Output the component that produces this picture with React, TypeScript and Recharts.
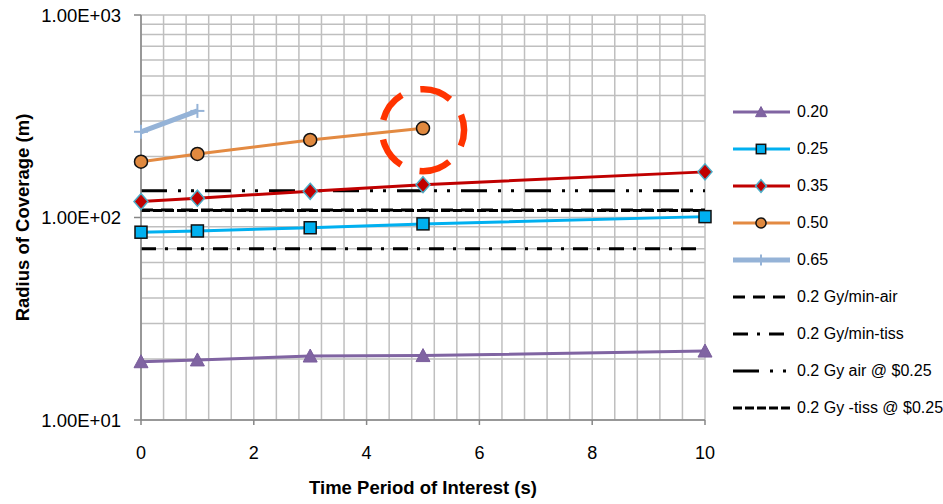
import React from 'react';
import { LineChart, Line, XAxis, YAxis, CartesianGrid, ReferenceDot } from 'recharts';

// ---------- data ----------
const timePoints = [0, 1, 3, 5, 10];
const radius020 = [19.4, 19.8, 20.7, 20.8, 21.9];
const radius025 = [84.6, 85.8, 89.0, 93.0, 101];
const radius035 = [119.8, 124.6, 134.7, 145.2, 168];
const radius050 = [188.6, 205.9, 241.4, 275.7];
const radius065 = [265, 336];

const limitSpan = [0, 10];
const airPerMin = 108.9;
const tissPerMin = 70.1;
const airAtCost = 135.6;
const tissAtCost = 108.3;

const xTicks = [0, 0.4, 0.8, 1.2, 1.6, 2, 2.4, 2.8, 3.2, 3.6, 4, 4.4, 4.8, 5.2, 5.6, 6, 6.4, 6.8, 7.2, 7.6, 8, 8.4, 8.8, 9.2, 9.6, 10];
const xMajorTicks = [0, 2, 4, 6, 8, 10];
const xTickLabels = ['0', '2', '4', '6', '8', '10'];
const yTicks = [10, 20, 30, 40, 50, 60, 70, 80, 90, 100, 200, 300, 400, 500, 600, 700, 800, 900, 1000];
const yMajorTicks = [10, 100, 1000];
const yTickLabels = ['1.00E+01', '1.00E+02', '1.00E+03'];

const highlight = { x: 5, y: 270 };

const xTitle = 'Time Period of Interest (s)';
const yTitle = 'Radius of Coverage (m)';

// ---------- helpers ----------
const toPoints = (ys: number[]) => ys.map((y, i) => ({ x: timePoints[i], y }));
const flat = (v: number) => limitSpan.map((x) => ({ x, y: v }));

const FONT = '"Liberation Sans", Arial, sans-serif';
const GRID = '#BFBFBF';
const AXIS = '#868686';

type ShapeKind = 'triangle' | 'square' | 'diamond' | 'circle' | 'plus' | 'none';

function Marker({ kind, cx, cy, s = 1 }: { kind: ShapeKind; cx: number; cy: number; s?: number }) {
  if (kind === 'triangle') {
    const pts = `${cx},${cy - 7 * s} ${cx + 7 * s},${cy + 6 * s} ${cx - 7 * s},${cy + 6 * s}`;
    return <polygon points={pts} fill="#8064A2" stroke="#7A5E9C" strokeWidth={1} />;
  }
  if (kind === 'square') {
    return (
      <rect x={cx - 6 * s} y={cy - 6 * s} width={12 * s} height={12 * s} fill="#00B0F0" stroke="#111" strokeWidth={1.5} />
    );
  }
  if (kind === 'diamond') {
    const pts = `${cx},${cy - 8 * s} ${cx + 7 * s},${cy} ${cx},${cy + 8 * s} ${cx - 7 * s},${cy}`;
    return <polygon points={pts} fill="#C00000" stroke="#4BACC6" strokeWidth={1.5} />;
  }
  if (kind === 'circle') {
    return <circle cx={cx} cy={cy} r={6.5 * s} fill="#E0893F" stroke="#111" strokeWidth={1.5} />;
  }
  if (kind === 'plus') {
    return (
      <g stroke="#95B3D7" strokeWidth={2}>
        <line x1={cx - 7 * s} x2={cx + 7 * s} y1={cy} y2={cy} />
        <line x1={cx} x2={cx} y1={cy - 7 * s} y2={cy + 7 * s} />
      </g>
    );
  }
  return null;
}

type SeriesDef = {
  name: string;
  data: { x: number; y: number }[];
  color: string;
  width: number;
  dash?: string;
  marker: ShapeKind;
};

const limitSeries: SeriesDef[] = [
  { name: '0.2 Gy/min-air', data: flat(airPerMin), color: '#000', width: 3, dash: '12 8', marker: 'none' },
  { name: '0.2 Gy/min-tiss', data: flat(tissPerMin), color: '#000', width: 3, dash: '15 9 3 9', marker: 'none' },
  { name: '0.2 Gy air @ $0.25', data: flat(airAtCost), color: '#000', width: 3, dash: '26 11 3 10 3 11', marker: 'none' },
  { name: '0.2 Gy -tiss @ $0.25', data: flat(tissAtCost), color: '#000', width: 3, dash: '9 3', marker: 'none' },
];

const doseSeries: SeriesDef[] = [
  { name: '0.20', data: toPoints(radius020), color: '#8064A2', width: 3, marker: 'triangle' },
  { name: '0.25', data: toPoints(radius025), color: '#00B0F0', width: 3, marker: 'square' },
  { name: '0.35', data: toPoints(radius035), color: '#C00000', width: 3, marker: 'diamond' },
  { name: '0.50', data: toPoints(radius050), color: '#E38A42', width: 3, marker: 'circle' },
  { name: '0.65', data: toPoints(radius065), color: '#95B3D7', width: 5, marker: 'plus' },
];

const legendOrder: SeriesDef[] = [...doseSeries, ...limitSeries];

const makeDot = (def: SeriesDef) => (props: any) => (
  <g key={`${def.name}-${props.index}`}>
    <Marker kind={def.marker} cx={props.cx} cy={props.cy} />
  </g>
);

const XTick = (props: any) => {
  const { x, y, payload } = props;
  const idx = xMajorTicks.indexOf(payload.value);
  if (idx < 0) return <g />;
  return (
    <g>
      <line x1={x} x2={x} y1={y} y2={y + 5} stroke={AXIS} strokeWidth={1.5} />
      <text x={x} y={y + 33} textAnchor="middle" dominantBaseline="central" fontSize={18} fontFamily={FONT} fill="#000">
        {xTickLabels[idx]}
      </text>
    </g>
  );
};

const YTick = (props: any) => {
  const { x, y, payload } = props;
  const idx = yMajorTicks.indexOf(payload.value);
  if (idx < 0) return <g />;
  return (
    <g>
      <line x1={x - 7} x2={x} y1={y} y2={y} stroke={AXIS} strokeWidth={1.5} />
      <text x={x - 20} y={y} textAnchor="end" dominantBaseline="central" fontSize={18.5} fontFamily={FONT} fill="#000">
        {yTickLabels[idx]}
      </text>
    </g>
  );
};

const XTitle = (props: any) => {
  const vb = props.viewBox || { x: 0, y: 0, width: 0, height: 0 };
  return (
    <text x={vb.x + vb.width / 2} y={vb.y + 67} textAnchor="middle" dominantBaseline="central" fontSize={18.5} fontWeight="bold" fontFamily={FONT} fill="#000">
      {xTitle}
    </text>
  );
};

const YTitle = (props: any) => {
  const vb = props.viewBox || { x: 0, y: 0, width: 0, height: 0 };
  const cx = vb.x + 22;
  const cy = vb.y + vb.height / 2;
  return (
    <text x={cx} y={cy} transform={`rotate(-90 ${cx} ${cy})`} textAnchor="middle" dominantBaseline="central" fontSize={18.5} fontWeight="bold" fontFamily={FONT} fill="#000">
      {yTitle}
    </text>
  );
};

const HighlightRing = (props: any) => {
  const { cx, cy } = props;
  return (
    <circle
      cx={cx}
      cy={cy}
      r={41}
      fill="none"
      stroke="#FF3300"
      strokeWidth={6.5}
      strokeDasharray="32 19.5"
      transform={`rotate(-22 ${cx} ${cy})`}
    />
  );
};

const LegendBox = () => (
  <div style={{ position: 'absolute', left: 0, top: 0 }}>
    {legendOrder.map((def, i) => {
      const cy = 111.5 + i * 37;
      return (
        <div key={def.name}>
          <svg style={{ position: 'absolute', left: 731, top: cy - 10 }} width={62} height={20}>
            <line x1={2} x2={59} y1={10} y2={10} stroke={def.color} strokeWidth={def.width} strokeDasharray={def.dash} />
            <Marker kind={def.marker} cx={30} cy={10} s={0.78} />
          </svg>
          <div
            style={{
              position: 'absolute',
              left: 797,
              top: cy - 10,
              height: 20,
              lineHeight: '20px',
              fontSize: 16,
              fontFamily: FONT,
              color: '#000',
              whiteSpace: 'nowrap',
            }}
          >
            {def.name}
          </div>
        </div>
      );
    })}
  </div>
);

export default function App() {
  return (
    <div style={{ position: 'absolute', left: 0, top: 0, width: 943, height: 504, background: '#fff' }}>
      <LineChart width={943} height={504} margin={{ top: 15, right: 238, bottom: 0, left: 0 }}>
        <CartesianGrid stroke={GRID} strokeWidth={1.5} />
        <XAxis
          dataKey="x"
          type="number"
          domain={[0, 10]}
          ticks={xTicks}
          interval={0}
          height={84}
          tickSize={0}
          tickMargin={0}
          tickLine={false}
          axisLine={{ stroke: AXIS, strokeWidth: 1.5 }}
          tick={XTick}
          label={{ content: XTitle }}
        />
        <YAxis
          dataKey="y"
          type="number"
          scale="log"
          domain={[10, 1000]}
          ticks={yTicks}
          interval={0}
          width={141}
          tickSize={0}
          tickMargin={0}
          tickLine={false}
          axisLine={{ stroke: AXIS, strokeWidth: 1.5 }}
          tick={YTick}
          label={{ content: YTitle }}
        />
        {limitSeries.map((def) => (
          <Line
            key={def.name}
            data={def.data}
            dataKey="y"
            name={def.name}
            type="linear"
            stroke={def.color}
            strokeWidth={def.width}
            strokeDasharray={def.dash}
            dot={false}
            activeDot={false}
            isAnimationActive={false}
          />
        ))}
        {doseSeries.map((def) => (
          <Line
            key={def.name}
            data={def.data}
            dataKey="y"
            name={def.name}
            type="linear"
            stroke={def.color}
            strokeWidth={def.width}
            dot={makeDot(def)}
            activeDot={false}
            isAnimationActive={false}
          />
        ))}
        <ReferenceDot x={highlight.x} y={highlight.y} r={41} shape={HighlightRing} ifOverflow="visible" />
      </LineChart>
      <LegendBox />
    </div>
  );
}
